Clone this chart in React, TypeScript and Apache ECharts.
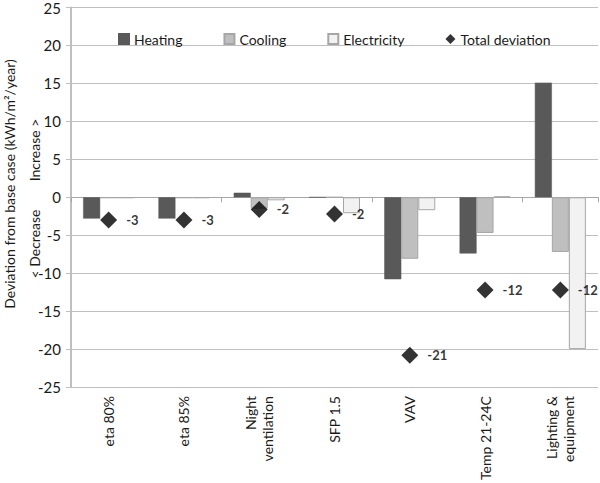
import React, { useEffect, useRef } from "react";
import * as echarts from "echarts";

const categories = ["eta 80%", "eta 85%", "Night\nventilation", "SFP 1.5", "VAV", "Temp 21-24C", "Lighting &\nequipment"];
const heating = [-2.8, -2.8, 0.6, 0, -10.8, -7.4, 15.1];
const cooling = [-0.1, -0.1, -1.5, 0, -8.1, -4.7, -7.2];
const electricity = [-0.1, -0.1, -0.4, -2.1, -1.7, 0.1, -20.0];
const totalDeviation = [-3.0, -3.0, -1.6, -2.2, -20.8, -12.2, -12.2];
const yTicks = { min: -25, max: 25, interval: 5 };

const FONT = "Lato";
const TXT = "#1a1a1a";

export default function App() {
  const ref = useRef<HTMLDivElement>(null);
  useEffect(() => {
    if (!ref.current) return;
    const chart = echarts.init(ref.current, undefined, { renderer: "svg" });
    const axisGray = "#bfbfbf";
    chart.setOption({
      animation: false,
      textStyle: { fontFamily: FONT },
      grid: { left: 71, right: 2, top: 5, bottom: 95, containLabel: false },
      legend: {
        left: 118,
        top: 32,
        padding: 0,
        itemWidth: 10,
        itemHeight: 10,
        itemGap: 41,
        textStyle: { fontFamily: FONT, fontSize: 14, color: TXT },
        data: [
          { name: "Heating", icon: "rect" },
          { name: "Cooling", icon: "rect" },
          { name: "Electricity", icon: "rect" },
          { name: "Total deviation", icon: "diamond" },
        ],
      },
      xAxis: [
        {
          type: "category",
          data: categories,
          position: "bottom",
          axisLine: { show: false, onZero: false },
          axisTick: { show: false },
          axisLabel: {
            rotate: 90,
            margin: 9,
            fontFamily: FONT,
            fontSize: 14,
            color: TXT,
            lineHeight: 17,
          },
        },
        {
          type: "category",
          data: categories,
          position: "bottom",
          axisLine: { show: true, onZero: true, lineStyle: { color: "#a6a6a6", width: 1 } },
          axisTick: { show: true, length: 5, lineStyle: { color: "#a6a6a6" } },
          axisLabel: { show: false },
        },
      ],
      yAxis: {
        type: "value",
        min: yTicks.min,
        max: yTicks.max,
        interval: yTicks.interval,
        axisLine: { show: true, lineStyle: { color: axisGray, width: 2 } },
        axisTick: { show: true, length: 5, lineStyle: { color: axisGray } },
        axisLabel: { fontFamily: FONT, fontSize: 15, color: TXT, margin: 10 },
        splitLine: { show: true, lineStyle: { color: axisGray, width: 1 } },
      },
      graphic: [
        {
          type: "text",
          x: 9,
          y: 184,
          rotation: Math.PI / 2,
          style: {
            text: "Deviation from base case (kWh/m²/year)",
            fontFamily: FONT,
            fontSize: 14,
            fill: TXT,
            align: "center",
            verticalAlign: "middle",
          },
        },
        {
          type: "text",
          x: 34,
          y: 150,
          rotation: Math.PI / 2,
          style: {
            text: "Increase >",
            fontFamily: FONT,
            fontSize: 14,
            fill: TXT,
            align: "center",
            verticalAlign: "middle",
          },
        },
        {
          type: "text",
          x: 34,
          y: 244,
          rotation: Math.PI / 2,
          style: {
            text: "< Decrease",
            fontFamily: FONT,
            fontSize: 14,
            fill: TXT,
            align: "center",
            verticalAlign: "middle",
          },
        },
      ],
      series: [
        {
          name: "Heating",
          type: "bar",
          data: heating,
          barWidth: 17,
          barGap: "0%",
          itemStyle: { color: "#595959", borderColor: "#595959", borderWidth: 0.5 },
        },
        {
          name: "Cooling",
          type: "bar",
          data: cooling,
          barWidth: 17,
          barGap: "0%",
          itemStyle: { color: "#bfbfbf", borderColor: "#a6a6a6", borderWidth: 1 },
        },
        {
          name: "Electricity",
          type: "bar",
          data: electricity,
          barWidth: 17,
          barGap: "0%",
          itemStyle: { color: "#f2f2f2", borderColor: "#a6a6a6", borderWidth: 1 },
        },
        {
          name: "Total deviation",
          type: "scatter",
          data: totalDeviation,
          symbol: "diamond",
          symbolSize: [17, 17],
          itemStyle: { color: "#000" },
          label: {
            show: true,
            position: "right",
            distance: 9,
            fontFamily: FONT,
            fontSize: 13,
            fontWeight: "bold",
            color: "#000",
            formatter: (p: any) => String(Math.round(p.value)),
          },
          z: 5,
        },
      ],
    });
    return () => chart.dispose();
  }, []);
  return (
    <div
      ref={ref}
      style={{ position: "fixed", left: 0, top: 0, width: 600, height: 483, background: "#fff" }}
    />
  );
}
